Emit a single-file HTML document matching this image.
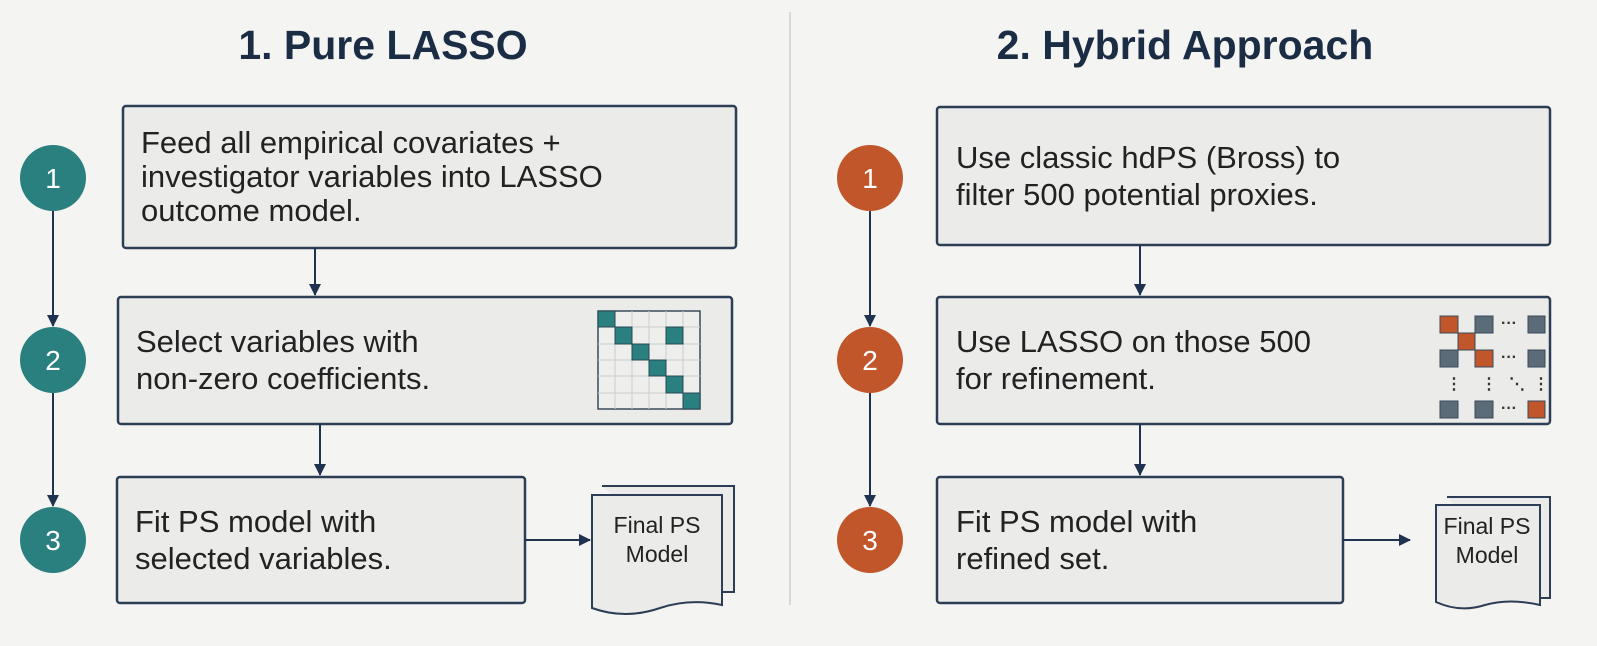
<!DOCTYPE html>
<html><head><meta charset="utf-8"><style>
html,body{margin:0;padding:0;background:#f4f4f2;}
svg{display:block;}
text{font-family:"Liberation Sans",sans-serif;}
.t{font-size:31px;fill:#222;}
.b{fill:#ebebe9;stroke:#2c3e55;stroke-width:2.5;}
.l{stroke:#1f3350;stroke-width:2;fill:none;}
.h{font-size:41px;font-weight:bold;fill:#1b2d45;text-anchor:middle;}
.n{font-size:28px;fill:#fff;text-anchor:middle;}
.d{font-size:23px;fill:#222;text-anchor:middle;}
</style></head><body>
<svg width="1597" height="646" viewBox="0 0 1597 646" xmlns="http://www.w3.org/2000/svg">
<defs><marker id="a" markerWidth="12" markerHeight="12" refX="11" refY="6" orient="auto" markerUnits="userSpaceOnUse"><path d="M0,0 L12,6 L0,12 z" fill="#1f3350"/></marker></defs>
<line x1="790" y1="12" x2="790" y2="605" stroke="#cfcfcc" stroke-width="1.5"/>
<text class="h" x="383" y="59">1. Pure LASSO</text>
<text class="h" x="1185" y="59">2. Hybrid Approach</text>

<!-- left -->
<line class="l" x1="53" y1="211" x2="53" y2="326" marker-end="url(#a)"/>
<line class="l" x1="53" y1="393" x2="53" y2="506" marker-end="url(#a)"/>
<circle cx="53" cy="178" r="33" fill="#2a7f7f"/><text class="n" x="53" y="188">1</text>
<circle cx="53" cy="360" r="33" fill="#2a7f7f"/><text class="n" x="53" y="370">2</text>
<circle cx="53" cy="540" r="33" fill="#2a7f7f"/><text class="n" x="53" y="550">3</text>

<rect class="b" x="123" y="106" width="613" height="142" rx="3"/>
<text class="t" x="141" y="153">Feed all empirical covariates +</text>
<text class="t" x="141" y="187">investigator variables into LASSO</text>
<text class="t" x="141" y="221">outcome model.</text>
<line class="l" x1="315" y1="248" x2="315" y2="295" marker-end="url(#a)"/>
<rect class="b" x="118" y="297" width="614" height="127" rx="3"/>
<text class="t" x="136" y="352">Select variables with</text>
<text class="t" x="136" y="389">non-zero coefficients.</text>
<g>
<rect x="598" y="311" width="102" height="98" fill="#eeeeec" stroke="#3a4a5a" stroke-width="1.5"/>
<g stroke="#c9cfcf" stroke-width="1">
<line x1="615" y1="311" x2="615" y2="409"/><line x1="632" y1="311" x2="632" y2="409"/><line x1="649" y1="311" x2="649" y2="409"/><line x1="666" y1="311" x2="666" y2="409"/><line x1="683" y1="311" x2="683" y2="409"/>
<line x1="598" y1="327" x2="700" y2="327"/><line x1="598" y1="344" x2="700" y2="344"/><line x1="598" y1="360" x2="700" y2="360"/><line x1="598" y1="376" x2="700" y2="376"/><line x1="598" y1="393" x2="700" y2="393"/>
</g>
<g fill="#2a7f7f" stroke="#2b4a55" stroke-width="1">
<rect x="598" y="311" width="17" height="16"/><rect x="615" y="327" width="17" height="17"/><rect x="666" y="327" width="17" height="17"/><rect x="632" y="344" width="17" height="16"/><rect x="649" y="360" width="17" height="16"/><rect x="666" y="376" width="17" height="17"/><rect x="683" y="393" width="17" height="16"/>
</g></g>
<line class="l" x1="320" y1="424" x2="320" y2="475" marker-end="url(#a)"/>
<rect class="b" x="117" y="477" width="408" height="126" rx="3"/>
<text class="t" x="135" y="532">Fit PS model with</text>
<text class="t" x="135" y="569">selected variables.</text>
<line class="l" x1="525" y1="540" x2="590" y2="540" marker-end="url(#a)"/>
<g>
<path d="M602,486 H734 V592 H720" fill="#ebebe9" stroke="#2c3e55" stroke-width="2"/>
<path d="M592,495 H722 V605 Q690,598 660,608 Q625,620 592,608 Z" fill="#ebebe9" stroke="#2c3e55" stroke-width="2"/>
<text class="d" x="657" y="533">Final PS</text><text class="d" x="657" y="562">Model</text>
</g>

<!-- right -->
<line class="l" x1="870" y1="211" x2="870" y2="326" marker-end="url(#a)"/>
<line class="l" x1="870" y1="393" x2="870" y2="506" marker-end="url(#a)"/>
<circle cx="870" cy="178" r="33" fill="#c0562a"/><text class="n" x="870" y="188">1</text>
<circle cx="870" cy="360" r="33" fill="#c0562a"/><text class="n" x="870" y="370">2</text>
<circle cx="870" cy="540" r="33" fill="#c0562a"/><text class="n" x="870" y="550">3</text>

<rect class="b" x="937" y="107" width="613" height="138" rx="3"/>
<text class="t" x="956" y="168">Use classic hdPS (Bross) to</text>
<text class="t" x="956" y="205">filter 500 potential proxies.</text>
<line class="l" x1="1140" y1="245" x2="1140" y2="295" marker-end="url(#a)"/>
<rect class="b" x="937" y="297" width="613" height="127" rx="3"/>
<text class="t" x="956" y="352">Use LASSO on those 500</text>
<text class="t" x="956" y="389">for refinement.</text>
<g stroke="#3a4a5a" stroke-width="1">
<rect x="1440" y="316" width="18" height="17" fill="#c0562a"/><rect x="1475" y="316" width="18" height="17" fill="#5b6b78"/><rect x="1528" y="316" width="17" height="17" fill="#5b6b78"/>
<rect x="1458" y="333" width="17" height="17" fill="#c0562a"/>
<rect x="1440" y="350" width="18" height="17" fill="#5b6b78"/><rect x="1475" y="350" width="18" height="17" fill="#c0562a"/><rect x="1528" y="350" width="17" height="17" fill="#5b6b78"/>
<rect x="1440" y="401" width="18" height="17" fill="#5b6b78"/><rect x="1475" y="401" width="18" height="17" fill="#5b6b78"/><rect x="1528" y="401" width="17" height="17" fill="#c0562a"/>
</g>
<g fill="#333" font-size="16" font-weight="bold" font-family="Liberation Sans">
<text x="1501" y="328">···</text><text x="1501" y="362">···</text><text x="1501" y="413">···</text>
<text x="1446" y="389">⋮</text><text x="1481" y="389">⋮</text><text x="1509" y="389">⋱</text><text x="1533" y="389">⋮</text>
</g>
<line class="l" x1="1140" y1="424" x2="1140" y2="475" marker-end="url(#a)"/>
<rect class="b" x="937" y="477" width="406" height="126" rx="3"/>
<text class="t" x="956" y="532">Fit PS model with</text>
<text class="t" x="956" y="569">refined set.</text>
<line class="l" x1="1343" y1="540" x2="1410" y2="540" marker-end="url(#a)"/>
<g>
<path d="M1447,497 H1550 V598 H1540" fill="#ebebe9" stroke="#2c3e55" stroke-width="2"/>
<path d="M1436,505 H1540 V605 Q1510,598 1485,605 Q1460,613 1436,602 Z" fill="#ebebe9" stroke="#2c3e55" stroke-width="2"/>
<text class="d" x="1487" y="534">Final PS</text><text class="d" x="1487" y="563">Model</text>
</g>
</svg>
</body></html>
